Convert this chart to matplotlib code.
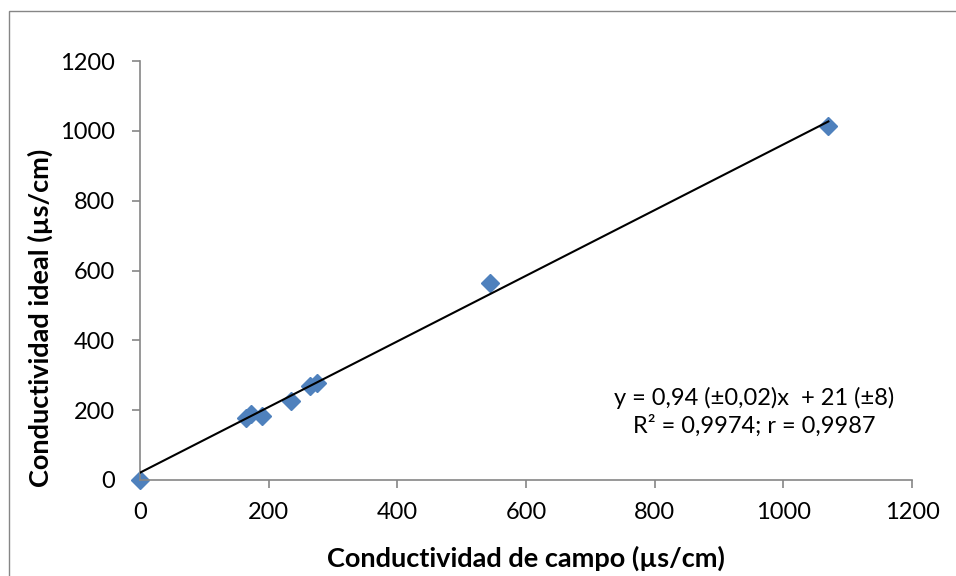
import matplotlib
matplotlib.use("Agg")
import matplotlib.pyplot as plt
from matplotlib.patches import Rectangle
import numpy as np

plt.rcParams['font.family'] = ['Lato', 'DejaVu Sans']

# Data
campo = [0, 165, 172, 190, 234, 264, 275, 544, 1070]
ideal = [0, 178, 190, 183, 227, 268, 279, 564, 1014]
slope = 0.94
intercept = 21
x_ticks = [0, 200, 400, 600, 800, 1000, 1200]
y_ticks = [0, 200, 400, 600, 800, 1000, 1200]
eq_text = "y = 0,94 (±0,02)x  + 21 (±8)\nR² = 0,9974; r = 0,9987"
xlabel = "Conductividad de campo (µs/cm)"
ylabel = "Conductividad ideal (µs/cm)"

W, H = 956, 576
fig = plt.figure(figsize=(W / 100, H / 100), dpi=100)
# outer chart border
fig.patches.append(Rectangle((8.5 / W, -0.05), 1.2, (H - 10.5) / H + 0.05,
                             transform=fig.transFigure, fill=False,
                             edgecolor='#868686', linewidth=1.0))

ax = fig.add_axes([140 / W, 96 / H, 772 / W, 419 / H])

xs = np.array([0, max(campo)])
ax.plot(xs, slope * xs + intercept, color='black', linewidth=1.5, zorder=3)
ax.plot(campo, ideal, linestyle='none', marker='D', markersize=9.5,
        color='#4F81BD', markeredgecolor='#4F81BD', zorder=2, clip_on=False)

ax.set_xlim(0, 1200)
ax.set_ylim(0, 1200)
ax.set_xticks(x_ticks)
ax.set_yticks(y_ticks)
ax.set_xticklabels([str(v) for v in x_ticks])
ax.set_yticklabels([str(v) for v in y_ticks])

for s in ['top', 'right']:
    ax.spines[s].set_visible(False)
for s in ['left', 'bottom']:
    ax.spines[s].set_color('#868686')
    ax.spines[s].set_linewidth(1.2)

ax.tick_params(axis='both', direction='out', length=6, width=1.2,
               color='#868686', labelsize=17, labelcolor='black')
ax.tick_params(axis='x', pad=10)
ax.tick_params(axis='y', pad=12)

fig.text(526 / W, 1 - 558 / H, xlabel, ha='center', va='center',
         fontsize=19.5, fontweight='bold')
fig.text(40 / W, 1 - 318 / H, ylabel, ha='center', va='center',
         fontsize=19.5, fontweight='bold', rotation=90)

fig.text(754 / W, 1 - 412 / H, eq_text, ha='center', va='center',
         fontsize=17, linespacing=1.3)

fig.savefig("out.png", dpi=100)
